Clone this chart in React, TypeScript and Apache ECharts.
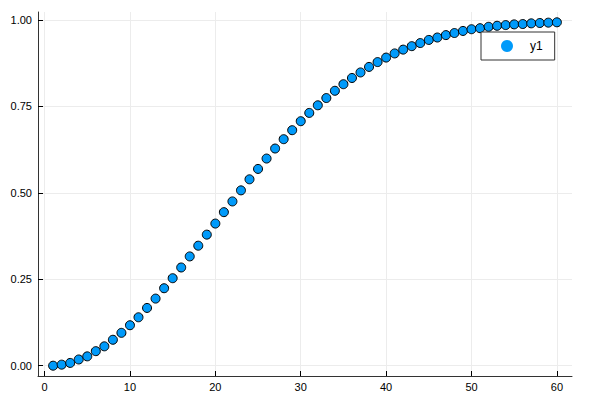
import React, { useEffect, useRef } from "react";
import * as echarts from "echarts";

const xValues: number[] = Array.from({ length: 60 }, (_, i) => i + 1);
const yValues: number[] = [
  0.000, 0.003, 0.008, 0.018, 0.027, 0.042, 0.056, 0.075, 0.095, 0.117,
  0.140, 0.167, 0.194, 0.224, 0.253, 0.284, 0.316, 0.347, 0.379, 0.411,
  0.444, 0.475, 0.507, 0.539, 0.569, 0.599, 0.628, 0.655, 0.681, 0.707,
  0.731, 0.753, 0.774, 0.795, 0.814, 0.832, 0.848, 0.864, 0.878, 0.891,
  0.903, 0.914, 0.924, 0.933, 0.942, 0.949, 0.956, 0.962, 0.968, 0.973,
  0.976, 0.980, 0.983, 0.985, 0.987, 0.988, 0.990, 0.991, 0.992, 0.993,
];
const xTicks: number[] = [0, 10, 20, 30, 40, 50, 60];
const yTicks: number[] = [0, 0.25, 0.5, 0.75, 1.0];
const seriesName = "y1";

export default function App() {
  const ref = useRef<HTMLDivElement>(null);
  useEffect(() => {
    if (!ref.current) return;
    const chart = echarts.init(ref.current, undefined, { renderer: "svg" });
    const font = "'Liberation Sans', Arial, sans-serif";
    const axisCommon = {
      axisLine: { show: true, onZero: false, lineStyle: { color: "#333", width: 1 } },
      axisTick: { show: true, inside: true, length: 5, lineStyle: { color: "#000", width: 1 } },
      splitLine: { show: true, lineStyle: { color: "#ececec", width: 1 } },
    };
    chart.setOption({
      animation: false,
      backgroundColor: "#fff",
      textStyle: { fontFamily: font },
      grid: { left: 38, top: 12, right: 23, bottom: 29, containLabel: false },
      xAxis: {
        type: "value",
        min: -0.77,
        max: 61.77,
        ...axisCommon,
        axisTick: { ...axisCommon.axisTick, customValues: xTicks },
        axisLabel: {
          customValues: xTicks,
          color: "#000",
          fontSize: 11,
          fontFamily: font,
          margin: 5,
          formatter: (v: number) => String(Math.round(v)),
        },
      },
      yAxis: {
        type: "value",
        min: -0.0298,
        max: 1.0228,
        ...axisCommon,
        axisTick: { ...axisCommon.axisTick, customValues: yTicks },
        axisLabel: {
          customValues: yTicks,
          color: "#000",
          fontSize: 11,
          fontFamily: font,
          margin: 6,
          formatter: (v: number) => v.toFixed(2),
        },
      },
      legend: {
        show: true,
        left: 481,
        top: 32,
        orient: "vertical",
        padding: [8, 12, 8, 20],
        borderColor: "#333",
        borderWidth: 1,
        backgroundColor: "#fff",
        itemWidth: 12,
        itemHeight: 12,
        icon: "circle",
        textStyle: { color: "#000", fontSize: 12, fontFamily: font, padding: [0, 0, 0, 12] },
        itemStyle: { borderWidth: 0 },
        data: [seriesName],
      },
      series: [
        {
          name: seriesName,
          type: "scatter",
          symbol: "circle",
          symbolSize: 9,
          data: xValues.map((x, i) => [x, yValues[i]]),
          itemStyle: { color: "#009AFA", borderColor: "#000", borderWidth: 1, opacity: 1 },
          emphasis: { disabled: true },
        },
      ],
    });
    return () => chart.dispose();
  }, []);
  return (
    <div
      ref={ref}
      style={{ position: "fixed", left: 0, top: 0, width: 595, height: 405, background: "#fff" }}
    />
  );
}
